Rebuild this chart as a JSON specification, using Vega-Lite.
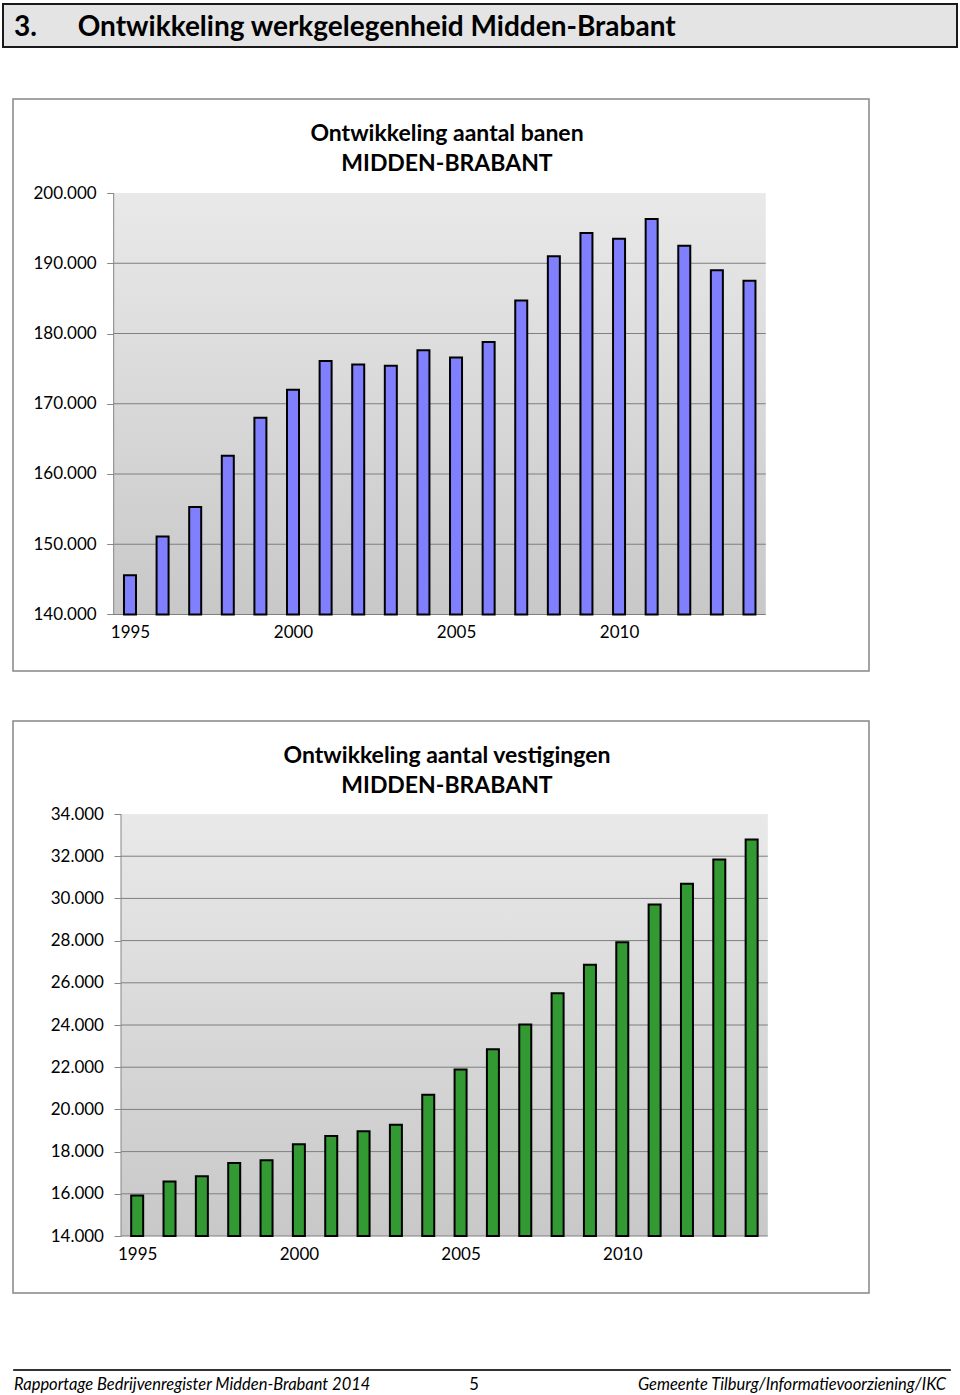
{
  "$schema": "https://vega.github.io/schema/vega-lite/v6.json",
  "padding": {"left": 2, "top": 3, "right": 1, "bottom": 2},
  "background": "white",
  "config": {
    "font": "Lato",
    "view": {"stroke": null},
    "axis": {"labelFontSize": 17, "labelColor": "#000000", "tickColor": "#868686", "tickWidth": 1, "grid": false, "domain": false},
    "title": {"color": "#000000", "fontWeight": "bold"}
  },
  "spacing": 50,
  "vconcat": [
    {
      "width": 954,
      "height": 43,
      "view": {"fill": "#e4e4e4", "stroke": "#1a1a1a", "strokeWidth": 2},
      "title": {"text": "3.\u00a0\u00a0\u00a0\u00a0\u00a0\u00a0Ontwikkeling werkgelegenheid Midden-Brabant", "anchor": "start", "frame": "group", "offset": -38, "dx": 11, "fontSize": 28},
      "data": {"values": [{"k": 1}]},
      "mark": {"type": "point", "opacity": 0}
    },
    {
      "spacing": 74,
      "vconcat": [
        {
          "spacing": 48,
          "vconcat": [
            {
              "spacing": 8,
              "hconcat": [
                {"width": 1, "height": 1, "data": {"values": []}, "mark": {"type": "point", "opacity": 0}},
                {
                  "width": 856,
                  "height": 572,
                  "view": {"fill": "white", "stroke": "#878787", "strokeWidth": 1.5},
                  "title": {"text": ["Ontwikkeling aantal banen", "MIDDEN-BRABANT"], "anchor": "middle", "frame": "group", "offset": -77, "dx": 6, "fontSize": 23, "lineHeight": 30},
                  "layer": [
                    {
                      "data": {"values": [{"k": 1}]},
                      "mark": {"type": "rect", "fill": {"gradient": "linear", "x1": 0, "y1": 0, "x2": 0, "y2": 1, "stops": [{"offset": 0, "color": "#e9e9e9"}, {"offset": 1, "color": "#c8c8c8"}]}},
                      "encoding": {
                        "x": {"datum": 1994.5, "type": "quantitative", "scale": {"type": "linear", "domain": [1991.412, 2017.666], "nice": false, "zero": false, "padding": 0},
                              "axis": {"orient": "bottom", "offset": -57, "values": [1995, 2000, 2005, 2010], "format": "d", "ticks": false, "labelPadding": 10, "labelFlush": false, "title": null}},
                        "x2": {"datum": 2014.5},
                        "y": {"datum": 140000, "type": "quantitative", "scale": {"type": "linear", "domain": [131957, 213381], "nice": false, "zero": false, "padding": 0},
                              "axis": {"orient": "left", "offset": -100.7, "values": [140000, 150000, 160000, 170000, 180000, 190000, 200000], "labelExpr": "replace(format(datum.value, ',d'), ',', '.')", "tickSize": 7, "labelPadding": 10.5, "title": null}},
                        "y2": {"datum": 200000}
                      }
                    },
                    {
                      "data": {"values": [{"v": 140000}, {"v": 150000}, {"v": 160000}, {"v": 170000}, {"v": 180000}, {"v": 190000}]},
                      "mark": {"type": "rule", "color": "#7f7f7f", "strokeWidth": 1},
                      "encoding": {
                        "x": {"datum": 1994.5, "type": "quantitative", "scale": {"type": "linear", "domain": [1991.412, 2017.666], "nice": false, "zero": false, "padding": 0},
                              "axis": {"orient": "bottom", "offset": -57, "values": [1995, 2000, 2005, 2010], "format": "d", "ticks": false, "labelPadding": 10, "labelFlush": false, "title": null}},
                        "x2": {"datum": 2014.5},
                        "y": {"field": "v", "type": "quantitative", "scale": {"type": "linear", "domain": [131957, 213381], "nice": false, "zero": false, "padding": 0},
                              "axis": {"orient": "left", "offset": -100.7, "values": [140000, 150000, 160000, 170000, 180000, 190000, 200000], "labelExpr": "replace(format(datum.value, ',d'), ',', '.')", "tickSize": 7, "labelPadding": 10.5, "title": null}}
                      }
                    },
                    {
                      "data": {"values": [{"k": 1}]},
                      "mark": {"type": "rule", "color": "#868686", "strokeWidth": 1},
                      "encoding": {
                        "x": {"datum": 1994.5, "type": "quantitative", "scale": {"type": "linear", "domain": [1991.412, 2017.666], "nice": false, "zero": false, "padding": 0},
                              "axis": {"orient": "bottom", "offset": -57, "values": [1995, 2000, 2005, 2010], "format": "d", "ticks": false, "labelPadding": 10, "labelFlush": false, "title": null}},
                        "y": {"datum": 140000, "type": "quantitative", "scale": {"type": "linear", "domain": [131957, 213381], "nice": false, "zero": false, "padding": 0},
                              "axis": {"orient": "left", "offset": -100.7, "values": [140000, 150000, 160000, 170000, 180000, 190000, 200000], "labelExpr": "replace(format(datum.value, ',d'), ',', '.')", "tickSize": 7, "labelPadding": 10.5, "title": null}},
                        "y2": {"datum": 200000}
                      }
                    },
                    {
                      "data": {"values": [
                        {"jaar": 1995, "banen": 145600}, {"jaar": 1996, "banen": 151100}, {"jaar": 1997, "banen": 155300},
                        {"jaar": 1998, "banen": 162600}, {"jaar": 1999, "banen": 168000}, {"jaar": 2000, "banen": 172000},
                        {"jaar": 2001, "banen": 176100}, {"jaar": 2002, "banen": 175600}, {"jaar": 2003, "banen": 175400},
                        {"jaar": 2004, "banen": 177600}, {"jaar": 2005, "banen": 176600}, {"jaar": 2006, "banen": 178800},
                        {"jaar": 2007, "banen": 184700}, {"jaar": 2008, "banen": 191000}, {"jaar": 2009, "banen": 194300},
                        {"jaar": 2010, "banen": 193500}, {"jaar": 2011, "banen": 196300}, {"jaar": 2012, "banen": 192500},
                        {"jaar": 2013, "banen": 189000}, {"jaar": 2014, "banen": 187500}
                      ]},
                      "mark": {"type": "bar", "width": 12, "fill": "#8080ff", "stroke": "#000000", "strokeWidth": 2},
                      "encoding": {
                        "x": {"field": "jaar", "type": "quantitative", "scale": {"type": "linear", "domain": [1991.412, 2017.666], "nice": false, "zero": false, "padding": 0},
                              "axis": {"orient": "bottom", "offset": -57, "values": [1995, 2000, 2005, 2010], "format": "d", "ticks": false, "labelPadding": 10, "labelFlush": false, "title": null}},
                        "y": {"field": "banen", "type": "quantitative", "scale": {"type": "linear", "domain": [131957, 213381], "nice": false, "zero": false, "padding": 0},
                              "axis": {"orient": "left", "offset": -100.7, "values": [140000, 150000, 160000, 170000, 180000, 190000, 200000], "labelExpr": "replace(format(datum.value, ',d'), ',', '.')", "tickSize": 7, "labelPadding": 10.5, "title": null}},
                        "y2": {"datum": 140000}
                      }
                    }
                  ]
                }
              ]
            },
            {
              "spacing": 8,
              "hconcat": [
                {"width": 1, "height": 1, "data": {"values": []}, "mark": {"type": "point", "opacity": 0}},
                {
                  "width": 856,
                  "height": 572,
                  "view": {"fill": "white", "stroke": "#878787", "strokeWidth": 1.5},
                  "title": {"text": ["Ontwikkeling aantal vestigingen", "MIDDEN-BRABANT"], "anchor": "middle", "frame": "group", "offset": -77, "dx": 6, "fontSize": 23, "lineHeight": 30},
                  "layer": [
                    {
                      "data": {"values": [{"k": 1}]},
                      "mark": {"type": "rect", "fill": {"gradient": "linear", "x1": 0, "y1": 0, "x2": 0, "y2": 1, "stops": [{"offset": 0, "color": "#e9e9e9"}, {"offset": 1, "color": "#c8c8c8"}]}},
                      "encoding": {
                        "x": {"datum": 1994.5, "type": "quantitative", "scale": {"type": "linear", "domain": [1991.16, 2017.629], "nice": false, "zero": false, "padding": 0},
                              "axis": {"orient": "bottom", "offset": -57, "values": [1995, 2000, 2005, 2010], "format": "d", "ticks": false, "labelPadding": 10, "labelFlush": false, "title": null}},
                        "x2": {"datum": 2014.5},
                        "y": {"datum": 14000, "type": "quantitative", "scale": {"type": "linear", "domain": [11299, 38408], "nice": false, "zero": false, "padding": 0},
                              "axis": {"orient": "left", "offset": -108, "values": [14000, 16000, 18000, 20000, 22000, 24000, 26000, 28000, 30000, 32000, 34000], "labelExpr": "replace(format(datum.value, ',d'), ',', '.')", "tickSize": 7, "labelPadding": 10.5, "title": null}},
                        "y2": {"datum": 34000}
                      }
                    },
                    {
                      "data": {"values": [{"v": 14000}, {"v": 16000}, {"v": 18000}, {"v": 20000}, {"v": 22000}, {"v": 24000}, {"v": 26000}, {"v": 28000}, {"v": 30000}, {"v": 32000}]},
                      "mark": {"type": "rule", "color": "#7f7f7f", "strokeWidth": 1},
                      "encoding": {
                        "x": {"datum": 1994.5, "type": "quantitative", "scale": {"type": "linear", "domain": [1991.16, 2017.629], "nice": false, "zero": false, "padding": 0},
                              "axis": {"orient": "bottom", "offset": -57, "values": [1995, 2000, 2005, 2010], "format": "d", "ticks": false, "labelPadding": 10, "labelFlush": false, "title": null}},
                        "x2": {"datum": 2014.5},
                        "y": {"field": "v", "type": "quantitative", "scale": {"type": "linear", "domain": [11299, 38408], "nice": false, "zero": false, "padding": 0},
                              "axis": {"orient": "left", "offset": -108, "values": [14000, 16000, 18000, 20000, 22000, 24000, 26000, 28000, 30000, 32000, 34000], "labelExpr": "replace(format(datum.value, ',d'), ',', '.')", "tickSize": 7, "labelPadding": 10.5, "title": null}}
                      }
                    },
                    {
                      "data": {"values": [{"k": 1}]},
                      "mark": {"type": "rule", "color": "#868686", "strokeWidth": 1},
                      "encoding": {
                        "x": {"datum": 1994.5, "type": "quantitative", "scale": {"type": "linear", "domain": [1991.16, 2017.629], "nice": false, "zero": false, "padding": 0},
                              "axis": {"orient": "bottom", "offset": -57, "values": [1995, 2000, 2005, 2010], "format": "d", "ticks": false, "labelPadding": 10, "labelFlush": false, "title": null}},
                        "y": {"datum": 14000, "type": "quantitative", "scale": {"type": "linear", "domain": [11299, 38408], "nice": false, "zero": false, "padding": 0},
                              "axis": {"orient": "left", "offset": -108, "values": [14000, 16000, 18000, 20000, 22000, 24000, 26000, 28000, 30000, 32000, 34000], "labelExpr": "replace(format(datum.value, ',d'), ',', '.')", "tickSize": 7, "labelPadding": 10.5, "title": null}},
                        "y2": {"datum": 34000}
                      }
                    },
                    {
                      "data": {"values": [
                        {"jaar": 1995, "vestigingen": 15920}, {"jaar": 1996, "vestigingen": 16580}, {"jaar": 1997, "vestigingen": 16830},
                        {"jaar": 1998, "vestigingen": 17460}, {"jaar": 1999, "vestigingen": 17590}, {"jaar": 2000, "vestigingen": 18350},
                        {"jaar": 2001, "vestigingen": 18740}, {"jaar": 2002, "vestigingen": 18970}, {"jaar": 2003, "vestigingen": 19270},
                        {"jaar": 2004, "vestigingen": 20690}, {"jaar": 2005, "vestigingen": 21890}, {"jaar": 2006, "vestigingen": 22850},
                        {"jaar": 2007, "vestigingen": 24020}, {"jaar": 2008, "vestigingen": 25510}, {"jaar": 2009, "vestigingen": 26850},
                        {"jaar": 2010, "vestigingen": 27920}, {"jaar": 2011, "vestigingen": 29710}, {"jaar": 2012, "vestigingen": 30690},
                        {"jaar": 2013, "vestigingen": 31840}, {"jaar": 2014, "vestigingen": 32790}
                      ]},
                      "mark": {"type": "bar", "width": 12, "fill": "#339933", "stroke": "#000000", "strokeWidth": 2},
                      "encoding": {
                        "x": {"field": "jaar", "type": "quantitative", "scale": {"type": "linear", "domain": [1991.16, 2017.629], "nice": false, "zero": false, "padding": 0},
                              "axis": {"orient": "bottom", "offset": -57, "values": [1995, 2000, 2005, 2010], "format": "d", "ticks": false, "labelPadding": 10, "labelFlush": false, "title": null}},
                        "y": {"field": "vestigingen", "type": "quantitative", "scale": {"type": "linear", "domain": [11299, 38408], "nice": false, "zero": false, "padding": 0},
                              "axis": {"orient": "left", "offset": -108, "values": [14000, 16000, 18000, 20000, 22000, 24000, 26000, 28000, 30000, 32000, 34000], "labelExpr": "replace(format(datum.value, ',d'), ',', '.')", "tickSize": 7, "labelPadding": 10.5, "title": null}},
                        "y2": {"datum": 14000}
                      }
                    }
                  ]
                }
              ]
            }
          ]
        },
        {
          "spacing": 8,
          "hconcat": [
            {"width": 1, "height": 1, "data": {"values": []}, "mark": {"type": "point", "opacity": 0}},
            {
              "width": 937,
              "height": 1,
              "view": {"fill": "#333333", "stroke": "#333333", "strokeWidth": 1},
              "layer": [
                {
                  "data": {"values": [{"t": "Rapportage Bedrijvenregister Midden-Brabant 2014"}]},
                  "mark": {"type": "text", "align": "left", "baseline": "alphabetic", "dx": 1, "dy": 20, "fontStyle": "italic", "fontSize": 16.5, "color": "#000000"},
                  "encoding": {"text": {"field": "t"}, "x": {"datum": 0, "type": "quantitative", "scale": {"domain": [0, 1], "nice": false, "zero": false}, "axis": null}}
                },
                {
                  "data": {"values": [{"t": "5"}]},
                  "mark": {"type": "text", "align": "center", "baseline": "alphabetic", "dy": 20, "fontSize": 16.5, "color": "#000000"},
                  "encoding": {"text": {"field": "t"}, "x": {"datum": 0.492, "type": "quantitative", "scale": {"domain": [0, 1], "nice": false, "zero": false}, "axis": null}}
                },
                {
                  "data": {"values": [{"t": "Gemeente Tilburg/Informatievoorziening/IKC"}]},
                  "mark": {"type": "text", "align": "right", "baseline": "alphabetic", "dy": 20, "fontStyle": "italic", "fontSize": 16.5, "color": "#000000"},
                  "encoding": {"text": {"field": "t"}, "x": {"datum": 0.9957, "type": "quantitative", "scale": {"domain": [0, 1], "nice": false, "zero": false}, "axis": null}}
                }
              ]
            }
          ]
        }
      ]
    }
  ]
}
